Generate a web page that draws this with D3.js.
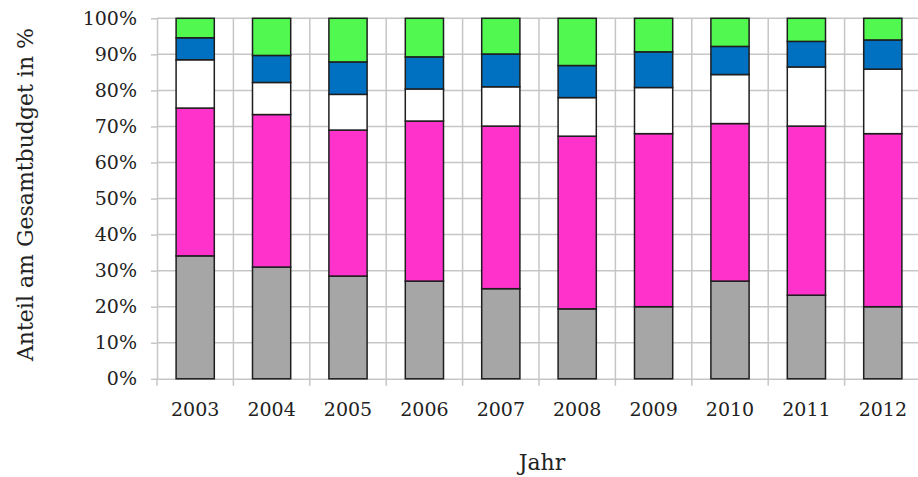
<!DOCTYPE html>
<html lang="de">
<head>
<meta charset="utf-8">
<script src="https://cdn.jsdelivr.net/npm/d3@7"></script>
<style>
  html, body { margin: 0; padding: 0; background: #fff; }
  svg { display: block; }
  .tick text { font-family: "DejaVu Serif", serif; fill: #222; }
</style>
</head>
<body>
<svg id="chart" width="918" height="477"></svg>
<script>
// Budget shares per year (percent of total budget), bottom to top of each stack
const years = ["2003", "2004", "2005", "2006", "2007", "2008", "2009", "2010", "2011", "2012"];
const shareGray    = [34.1, 31.0, 28.5, 27.1, 25.0, 19.4, 20.0, 27.1, 23.2, 20.0];
const shareMagenta = [41.0, 42.3, 40.5, 44.4, 45.1, 47.9, 48.0, 43.7, 46.9, 48.0];
const shareWhite   = [13.4,  8.9,  9.9,  8.9, 10.9, 10.7, 12.8, 13.6, 16.4, 17.9];
const shareBlue    = [ 6.1,  7.5,  9.0,  8.9,  9.1,  8.9,  9.9,  7.8,  7.1,  8.1];
const shareGreen   = [ 5.4, 10.3, 12.1, 10.7,  9.9, 13.1,  9.3,  7.8,  6.4,  6.0];
const yTicks = [0, 0.1, 0.2, 0.3, 0.4, 0.5, 0.6, 0.7, 0.8, 0.9, 1.0];

const seriesKeys = ["gray", "magenta", "white", "blue", "green"];
const seriesValues = {
  gray: shareGray, magenta: shareMagenta, white: shareWhite, blue: shareBlue, green: shareGreen
};
const colors = {
  gray: "#a6a6a6", magenta: "#ff33cc", white: "#ffffff", blue: "#0070c0", green: "#50f850"
};

const rows = years.map((yr, i) => {
  const r = { year: yr };
  seriesKeys.forEach(k => { r[k] = seriesValues[k][i]; });
  return r;
});

const svg = d3.select("#chart");
const margin = { left: 157, top: 18.3, right: -3, bottom: 98.2 };
const W = 918, H = 477;
const plotW = W - margin.left - margin.right;
const plotH = H - margin.top - margin.bottom;

const x = d3.scaleBand().domain(years).range([0, plotW]).paddingInner(0.5).paddingOuter(0.25);
const y = d3.scaleLinear().domain([0, 1]).range([plotH, 0]);

const g = svg.append("g").attr("transform", `translate(${margin.left},${margin.top})`);
const gridColor = "#c6c6c6";

// horizontal gridlines and left ticks
const yAxis = g.append("g")
  .call(d3.axisLeft(y).tickValues(yTicks).tickFormat(d3.format(".0%"))
    .tickSizeInner(6).tickSizeOuter(0).tickPadding(14));
yAxis.select(".domain").attr("stroke", gridColor).attr("stroke-width", 1.5);
yAxis.selectAll(".tick line").attr("stroke", gridColor).attr("stroke-width", 1.5);
yAxis.selectAll(".tick text").attr("font-size", 19);

g.append("g").selectAll("line").data(yTicks.slice(1)).join("line")
  .attr("x1", 0).attr("x2", plotW)
  .attr("y1", d => y(d)).attr("y2", d => y(d))
  .attr("stroke", gridColor).attr("stroke-width", 1.5);

// vertical gridlines at the category boundaries
const step = x.step();
const boundaries = years.map((yr, i) => i + 1);
g.append("g").selectAll("line").data(boundaries).join("line")
  .attr("x1", d => d * step).attr("x2", d => d * step)
  .attr("y1", 0).attr("y2", plotH + 7)
  .attr("stroke", gridColor).attr("stroke-width", 1.5);

// bottom axis with year labels
const xAxis = g.append("g").attr("transform", `translate(0,${plotH})`)
  .call(d3.axisBottom(x).tickSize(0).tickPadding(24));
xAxis.select(".domain").attr("stroke", gridColor).attr("stroke-width", 1.5);
xAxis.selectAll(".tick text").attr("font-size", 19);
g.append("line").attr("x1", 0).attr("x2", 0).attr("y1", plotH).attr("y2", plotH + 7)
  .attr("stroke", gridColor).attr("stroke-width", 1.5);

// stacked bars
const stack = d3.stack().keys(seriesKeys).offset(d3.stackOffsetExpand);
const layers = stack(rows);
g.append("g").selectAll("g").data(layers).join("g")
  .attr("fill", d => colors[d.key])
  .selectAll("rect").data(d => d).join("rect")
  .attr("x", d => x(d.data.year))
  .attr("width", x.bandwidth())
  .attr("y", d => y(d[1]))
  .attr("height", d => y(d[0]) - y(d[1]))
  .attr("stroke", "#1e1e1e").attr("stroke-width", 1.5);

// axis titles
svg.append("text")
  .attr("x", 542).attr("y", 470)
  .attr("text-anchor", "middle")
  .attr("font-family", "DejaVu Serif, serif").attr("font-size", 22).attr("fill", "#222")
  .text("Jahr");

svg.append("text")
  .attr("transform", `translate(33,${margin.top + plotH / 2 - 4}) rotate(-90)`)
  .attr("text-anchor", "middle")
  .attr("font-family", "DejaVu Serif, serif").attr("font-size", 22).attr("fill", "#222")
  .text("Anteil am Gesamtbudget in %");
</script>
</body>
</html>
